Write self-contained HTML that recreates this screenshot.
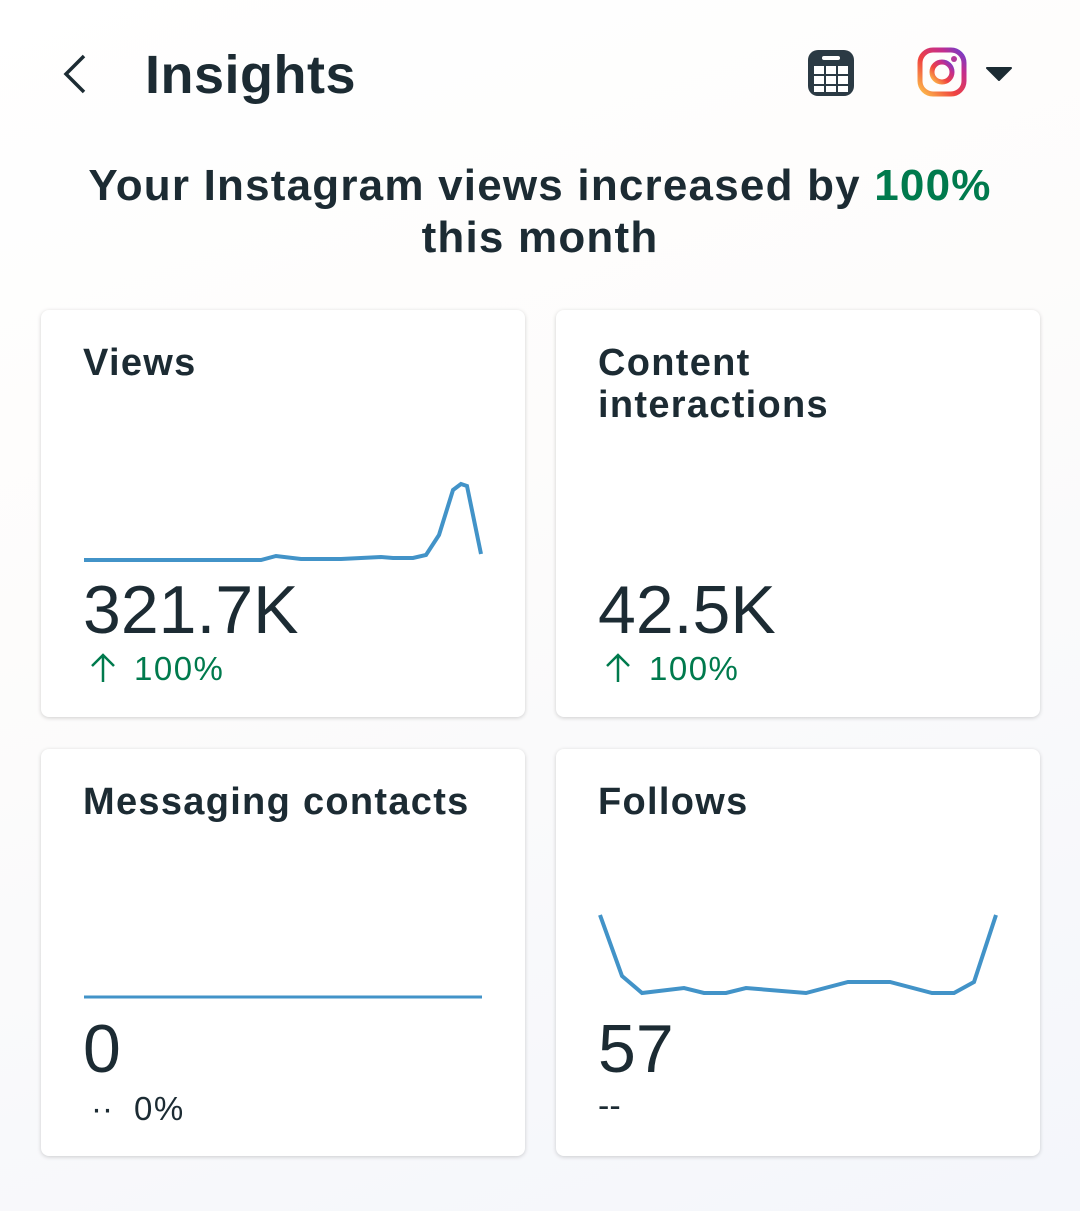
<!DOCTYPE html>
<html><head><meta charset="utf-8"><style>
*{margin:0;padding:0;box-sizing:border-box}
body{width:1080px;height:1211px;background:linear-gradient(160deg,#fff 0%,#fdfcfb 40%,#f4f6fb 100%);font-family:"Liberation Sans",sans-serif;color:#1c2b33;position:relative;overflow:hidden}
.t{position:absolute;white-space:nowrap}
.card{position:absolute;background:#fff;border-radius:8px;box-shadow:0 1px 4px rgba(0,0,0,0.18)}
.lbl{position:absolute;left:42px;top:32px;font-size:38px;font-weight:bold;line-height:42px;letter-spacing:1.3px}
.big{position:absolute;left:42px;font-size:68px;line-height:68px}
.pct{position:absolute;left:93px;top:340px;font-size:33px;color:#007a4d;letter-spacing:1.5px}
.arr{position:absolute;left:48px;top:342px}
</style></head><body>
<svg class="t" style="left:60px;top:52px" width="30" height="44"><polyline points="24,4 6,22 24,40" fill="none" stroke="#1c2b33" stroke-width="3.5"/></svg>
<div class="t" style="left:145px;top:44px;font-size:54px;font-weight:bold;letter-spacing:0.5px">Insights</div>
<svg class="t" style="left:806px;top:48px" width="50" height="50"><rect x="2" y="2" width="46" height="46" rx="10" fill="#2b3a44"/><rect x="16" y="8" width="18" height="4" rx="2" fill="#fff"/><g fill="#fff"><rect x="8" y="18" width="10" height="8"/><rect x="20" y="18" width="10" height="8"/><rect x="32" y="18" width="10" height="8"/><rect x="8" y="28" width="10" height="8"/><rect x="20" y="28" width="10" height="8"/><rect x="32" y="28" width="10" height="8"/><rect x="8" y="38" width="10" height="6"/><rect x="20" y="38" width="10" height="6"/><rect x="32" y="38" width="10" height="6"/></g></svg>
<svg class="t" style="left:916px;top:46px" width="54" height="54"><defs><linearGradient id="g" x1="0" y1="1" x2="1" y2="0"><stop offset="0" stop-color="#fdc24a"/><stop offset="0.4" stop-color="#f0433f"/><stop offset="0.75" stop-color="#c42d8d"/><stop offset="1" stop-color="#6a3fd0"/></linearGradient></defs><rect x="4" y="4" width="44" height="44" rx="13" fill="none" stroke="url(#g)" stroke-width="5"/><circle cx="26" cy="26" r="10" fill="none" stroke="url(#g)" stroke-width="5"/><circle cx="38" cy="13" r="3" fill="#b33a9b"/></svg>
<svg class="t" style="left:986px;top:66px" width="26" height="16"><path d="M1 2 L25 2 L13 14 Z" fill="#1c2b33" stroke="#1c2b33" stroke-linejoin="round" stroke-width="2"/></svg>
<div class="t" style="left:0;width:1080px;top:160px;text-align:center;font-size:44px;font-weight:bold;line-height:52px;letter-spacing:1.2px">Your Instagram views increased by <span style="color:#007a4d">100%</span><br>this month</div>

<div class="card" style="left:41px;top:310px;width:484px;height:407px">
<div class="lbl">Views</div>
<svg style="position:absolute;left:0;top:0" width="484" height="407"><polyline fill="none" stroke="#4293c8" stroke-width="4" points="43,250 220,250 235,246 260,249 300,249 340,247 352,248 372,248 385,245 398,225 412,180 420,174 426,176 440,244"/></svg>
<div class="big" style="top:266px">321.7K</div>
<svg class="arr" width="28" height="32"><path d="M14 30 V3 M3 14 L14 3 L25 14" fill="none" stroke="#007a4d" stroke-width="2.5"/></svg>
<div class="pct">100%</div>
</div>
<div class="card" style="left:556px;top:310px;width:484px;height:407px">
<div class="lbl">Content<br>interactions</div>
<div class="big" style="top:266px">42.5K</div>
<svg class="arr" width="28" height="32"><path d="M14 30 V3 M3 14 L14 3 L25 14" fill="none" stroke="#007a4d" stroke-width="2.5"/></svg>
<div class="pct">100%</div>
</div>
<div class="card" style="left:41px;top:749px;width:484px;height:407px">
<div class="lbl">Messaging contacts</div>
<svg style="position:absolute;left:0;top:0" width="484" height="407"><line x1="43" y1="248" x2="441" y2="248" stroke="#4293c8" stroke-width="3"/></svg>
<div class="big" style="top:266px">0</div>
<div class="t" style="left:50px;top:341px;font-size:33px">··</div>
<div class="t" style="left:93px;top:341px;font-size:33px;letter-spacing:1.5px">0%</div>
</div>
<div class="card" style="left:556px;top:749px;width:484px;height:407px">
<div class="lbl">Follows</div>
<svg style="position:absolute;left:0;top:0" width="484" height="407"><polyline fill="none" stroke="#4293c8" stroke-width="4" points="44,166 66,227 86,244 128,239 148,244 170,244 190,239 250,244 292,233 334,233 376,244 398,244 418,233 440,166"/></svg>
<div class="big" style="top:266px">57</div>
<div class="t" style="left:42px;top:338px;font-size:34px">--</div>
</div>
</body></html>
